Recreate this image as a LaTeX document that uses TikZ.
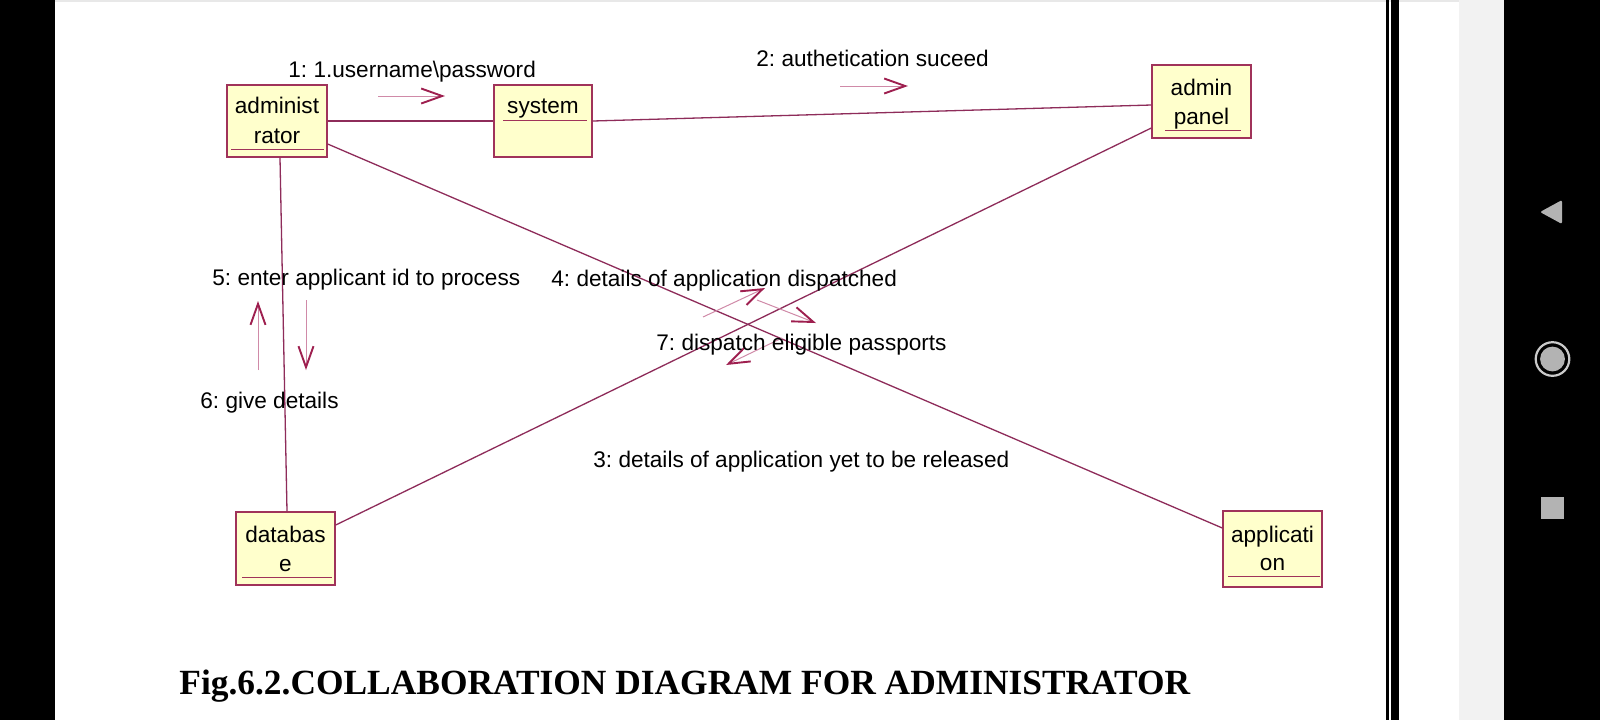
\documentclass[tikz,border=0pt]{standalone}
\usepackage{fontspec}
\setmainfont{Liberation Sans}
\newfontfamily\titlefont{Liberation Serif}
\usetikzlibrary{arrows.meta,calc}
\definecolor{boxfill}{HTML}{FFFFCC}
\definecolor{boxline}{HTML}{A0335A}
\definecolor{linkc}{HTML}{8E2C5A}
\definecolor{tipc}{HTML}{9E1F4F}
\definecolor{shaftc}{HTML}{D08AA8}
\definecolor{navicon}{HTML}{B3B3B3}
\definecolor{sidegray}{HTML}{F2F2F2}
\frenchspacing
\begin{document}
\begin{tikzpicture}[x=0.5pt,y=-0.5pt,
  obj/.style={draw=boxline, fill=boxfill, line width=0.7pt, inner sep=0pt},
  uline/.style={draw=boxline, line width=0.6pt},
  link/.style={draw=linkc, line width=0.65pt},
  msg/.style={draw=shaftc, line width=0.5pt,
    -{Straight Barb[length=10.5pt,width=7.5pt,line width=0.95pt,color=tipc]}},
  otxt/.style={inner sep=0pt, anchor=base, font=\fontsize{11.3pt}{14pt}\selectfont},
  ltxt/.style={inner sep=0pt, anchor=base west, font=\fontsize{11.3pt}{14pt}\selectfont}]
\useasboundingbox (0,0) rectangle (1600,720);
% screen chrome
\fill[white] (0,0) rectangle (1600,720);
\fill[gray!18] (55,0) rectangle (1459,2);
\fill[black] (0,0) rectangle (55,720);
\fill[black] (1386,0) rectangle (1388.5,720);
\fill[black] (1391,0) rectangle (1399,720);
\fill[sidegray] (1459,0) rectangle (1504,720);
\fill[black] (1504,0) rectangle (1600,720);
\fill[navicon, rounded corners=1pt] (1540,212) -- (1562,200) -- (1562,224) -- cycle;
\draw[navicon!70, line width=1.1pt] (1552.5,359) circle (8.4pt);
\fill[navicon] (1552.5,359) circle (6.2pt);
\fill[navicon] (1541,497) rectangle (1564,519);
% objects
\node[obj, minimum width=50pt, minimum height=36pt] (adm) at (277,121) {};
\node[obj, minimum width=49pt, minimum height=36pt] (sys) at (543,121) {};
\node[obj, minimum width=49.5pt, minimum height=36.5pt] (ap) at (1201.5,101.5) {};
\node[obj, minimum width=49.5pt, minimum height=36.5pt] (db) at (285.5,548.5) {};
\node[obj, minimum width=49.5pt, minimum height=38pt] (app) at (1272.5,549) {};
% links
\draw[link] (adm.east) -- (sys.west);
\draw[link] (sys.east) -- ($(ap.west)+(0,3.5)$);
\draw[link] ($(adm.east)+(0,23)$) -- ($(app.west)+(0,-21)$);
\draw[link] ($(adm.south)+(3,0)$) -- ($(db.north)+(1.5,0)$);
\draw[link] ($(db.east)+(0,-23.5)$) -- ($(ap.west)+(0,26.5)$);
% underlines
\draw[uline] ($(adm.south west)+(5,-8)$) -- ($(adm.south east)+(-4,-8)$);
\draw[uline] ($(sys.south west)+(10,-37)$) -- ($(sys.south east)+(-6,-37)$);
\draw[uline] ($(ap.south west)+(14,-8)$) -- ($(ap.south east)+(-11,-8)$);
\draw[uline] ($(db.south west)+(7,-8)$) -- ($(db.south east)+(-4,-8)$);
\draw[uline] ($(app.south west)+(6,-11)$) -- ($(app.south east)+(-3,-11)$);
% object names
\node[otxt] (admT1) at (277,113) {administ};
\node[otxt] (admT2) at (277,143) {rator};
\node[otxt] (sysT) at (543,113) {system};
\node[otxt] (apT1) at (1201.5,95) {admin};
\node[otxt] (apT2) at (1201.5,124) {panel};
\node[otxt] (dbT1) at (285.5,542) {databas};
\node[otxt] (dbT2) at (285.5,571) {e};
\node[otxt] (appT1) at (1272.5,542) {applicati};
\node[otxt] (appT2) at (1272.5,570) {on};
% message arrows
\coordinate (m1a) at (378,96);  \coordinate (m1b) at (445,96);
\coordinate (m2a) at (840,86);  \coordinate (m2b) at (908,86);
\coordinate (m5a) at (306,300); \coordinate (m5b) at (306,370);
\coordinate (m6a) at (258,370); \coordinate (m6b) at (258,301);
\coordinate (m4a) at (703,317); \coordinate (m4b) at (765,288);
\coordinate (m3a) at (757,300); \coordinate (m3b) at (816,323);
\coordinate (m7a) at (782,338); \coordinate (m7b) at (726,365);
\draw[msg] (m1a) -- (m1b);
\draw[msg] (m2a) -- (m2b);
\draw[msg] (m5a) -- (m5b);
\draw[msg] (m6a) -- (m6b);
\draw[msg] (m4a) -- (m4b);
\draw[msg] (m3a) -- (m3b);
\draw[msg] (m7a) -- (m7b);
% message labels
\node[ltxt] (l1) at (288,77) {1: 1.username\textbackslash password};
\node[ltxt] (l2) at (756,66) {2: authetication suceed};
\node[ltxt] (l5) at (212,285) {5: enter applicant id to process};
\node[ltxt] (l6) at (200,408) {6: give details};
\node[ltxt] (l4) at (551,286) {4: details of application dispatched};
\node[ltxt] (l7) at (656,350) {7: dispatch eligible passports};
\node[ltxt] (l3) at (593,467) {3: details of application yet to be released};
% caption
\node[inner sep=0pt, anchor=base west, font=\titlefont\bfseries\fontsize{17.7pt}{21pt}\selectfont] (title) at (179,694) {Fig.6.2.COLLABORATION DIAGRAM FOR ADMINISTRATOR};
\end{tikzpicture}
\end{document}
